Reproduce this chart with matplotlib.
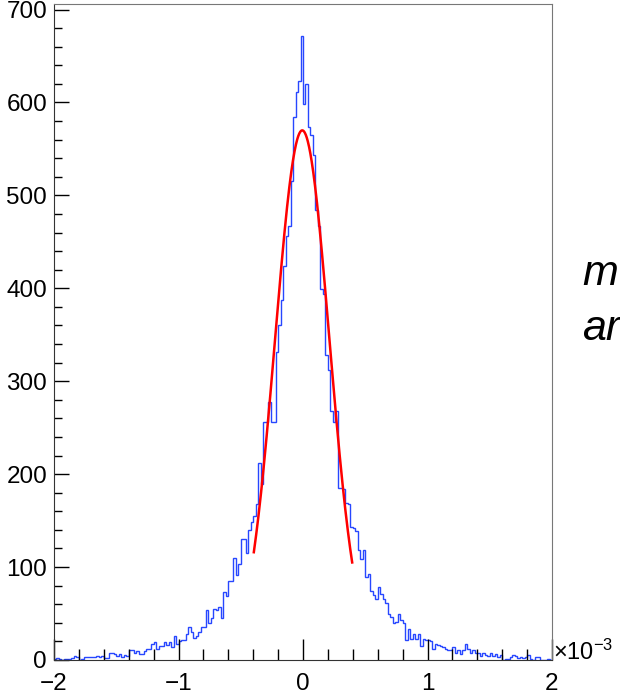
import numpy as np
import matplotlib
matplotlib.use("Agg")
import matplotlib.pyplot as plt
from matplotlib.ticker import MultipleLocator

plt.rcParams['font.family'] = ['Liberation Sans', 'DejaVu Sans']
plt.rcParams['mathtext.fontset'] = 'custom'
plt.rcParams['mathtext.rm'] = 'Liberation Sans'
plt.rcParams['mathtext.it'] = 'Liberation Sans:italic'

# histogram: 200 bins from -2 to 2 (x 10^-3)
x_min, x_max, n_bins = -2.0, 2.0, 200
counts = [
    1, 2, 1, 0, 1, 1, 1, 2, 4, 3,
    0, 1, 3, 3, 3, 3, 3, 4, 3, 4,
    2, 2, 7, 8, 6, 4, 6, 3, 5, 4,
    11, 11, 7, 10, 6, 6, 10, 12, 12, 17,
    19, 12, 15, 15, 19, 16, 19, 14, 26, 17,
    20, 21, 22, 28, 35, 30, 24, 26, 30, 35,
    35, 54, 40, 45, 55, 54, 57, 45, 73, 69,
    85, 85, 110, 92, 103, 130, 130, 115, 140, 148,
    155, 168, 212, 189, 256, 256, 278, 256, 256, 331,
    360, 387, 424, 456, 467, 515, 584, 611, 623, 672,
    598, 620, 574, 565, 543, 484, 467, 399, 394, 328,
    312, 268, 256, 268, 185, 185, 184, 169, 168, 143,
    142, 139, 118, 109, 118, 89, 93, 74, 70, 66,
    79, 71, 66, 61, 50, 46, 40, 41, 50, 43,
    40, 21, 33, 23, 28, 23, 28, 15, 23, 21,
    21, 20, 12, 17, 16, 15, 14, 12, 11, 11,
    14, 8, 11, 6, 11, 17, 12, 7, 11, 7,
    7, 4, 7, 5, 4, 7, 4, 6, 3, 5,
    0, 1, 1, 3, 5, 4, 2, 3, 2, 3,
    5, 1, 0, 3, 3, 0, 0, 0, 1, 0,
]

# gaussian fit parameters
fit_const = 570.0
fit_mean = -0.006
fit_sigma = 0.218
fit_range = (-0.395, 0.395)

text_lines = ["m", "ar"]

fig = plt.figure(figsize=(6.2, 6.98), dpi=100)
ax = fig.add_axes([54 / 620, 1 - 660 / 698, 498 / 620, 656 / 698])

edges = np.linspace(x_min, x_max, n_bins + 1)
ax.stairs(counts, edges, color='#2747ff', lw=1.0, baseline=0)

xf = np.linspace(fit_range[0], fit_range[1], 300)
yf = fit_const * np.exp(-0.5 * ((xf - fit_mean) / fit_sigma) ** 2)
ax.plot(xf, yf, color='#ff0000', lw=1.8)

ax.set_xlim(x_min, x_max)
ax.set_ylim(0, 706)

ax.xaxis.set_major_locator(MultipleLocator(1))
ax.xaxis.set_minor_locator(MultipleLocator(0.2))
ax.yaxis.set_major_locator(MultipleLocator(100))
ax.yaxis.set_minor_locator(MultipleLocator(20))
ax.tick_params(axis='both', which='both', direction='in', top=False, right=False,
               labelsize=17.5, color='black')
ax.tick_params(axis='x', which='major', length=15, width=1, pad=9)
ax.tick_params(axis='x', which='minor', length=8, width=1)
ax.tick_params(axis='y', which='major', length=11, width=1, pad=5)
ax.tick_params(axis='y', which='minor', length=6, width=1)

for side in ['left', 'bottom']:
    ax.spines[side].set_color('#333333')
for side in ['top', 'right']:
    ax.spines[side].set_color('#777777')

fig.text(553 / 620, 1 - 652 / 698, r'$\times$10$^{-3}$', fontsize=17,
         ha='left', va='center')

fig.text(582 / 620, 1 - 285 / 698, text_lines[0], fontsize=31, style='italic',
         ha='left', va='baseline')
fig.text(582 / 620, 1 - 340 / 698, text_lines[1], fontsize=31, style='italic',
         ha='left', va='baseline')

fig.savefig('out.png', dpi=100)
